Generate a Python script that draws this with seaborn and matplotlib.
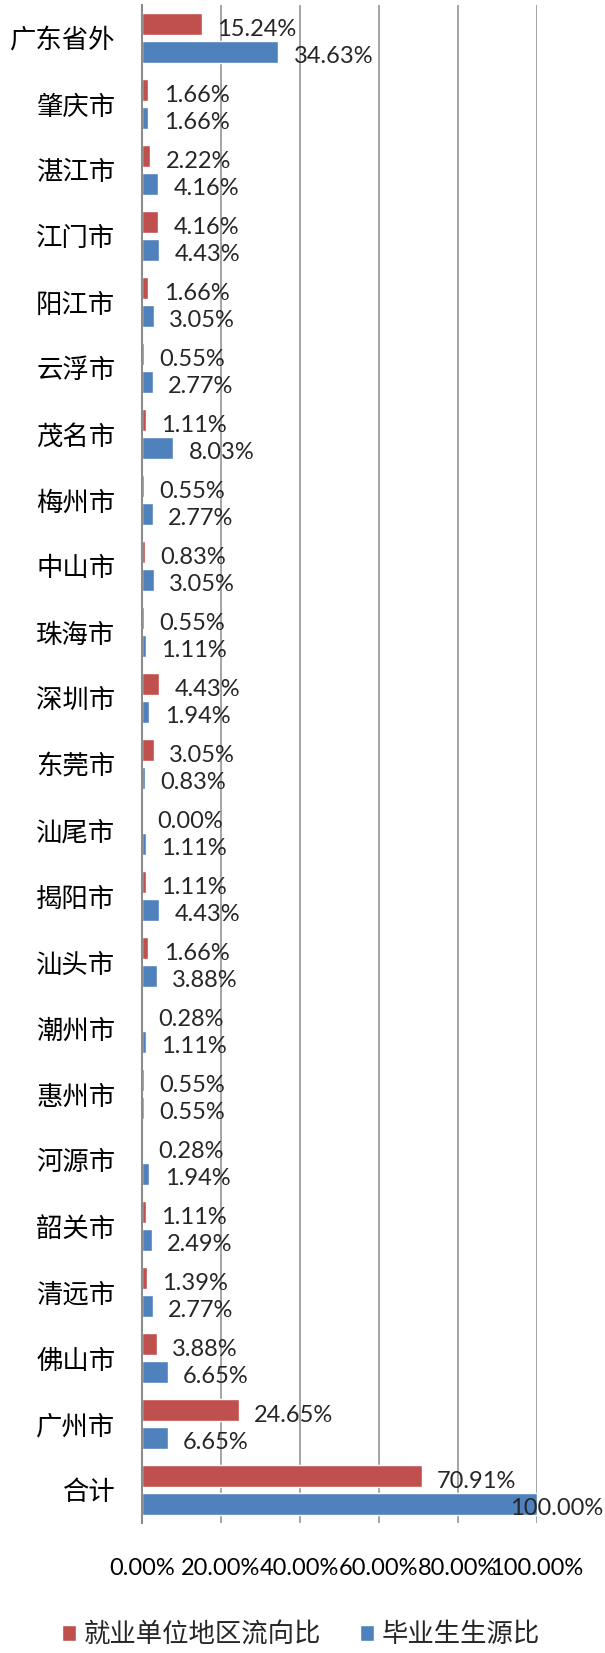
import matplotlib
matplotlib.use("Agg")
import matplotlib.pyplot as plt
import seaborn as sns
import pandas as pd

# ===================== 数据 =====================
regions = ["广东省外", "肇庆市", "湛江市", "江门市", "阳江市", "云浮市", "茂名市",
           "梅州市", "中山市", "珠海市", "深圳市", "东莞市", "汕尾市", "揭阳市",
           "汕头市", "潮州市", "惠州市", "河源市", "韶关市", "清远市", "佛山市",
           "广州市", "合计"]
# 就业单位地区流向比 (%)
flow_ratio = [15.24, 1.66, 2.22, 4.16, 1.66, 0.55, 1.11, 0.55, 0.83, 0.55, 4.43,
              3.05, 0.00, 1.11, 1.66, 0.28, 0.55, 0.28, 1.11, 1.39, 3.88, 24.65, 70.91]
# 毕业生生源比 (%)
source_ratio = [34.63, 1.66, 4.16, 4.43, 3.05, 2.77, 8.03, 2.77, 3.05, 1.11, 1.94,
                0.83, 1.11, 4.43, 3.88, 1.11, 0.55, 1.94, 2.49, 2.77, 6.65, 6.65, 100.00]
series = ["就业单位地区流向比", "毕业生生源比"]
x_ticks = [0, 20, 40, 60, 80, 100]

colors = ["#C0504D", "#4F81BD"]

df = pd.DataFrame({
    "地区": regions * 2,
    "比例": flow_ratio + source_ratio,
    "类型": [series[0]] * len(regions) + [series[1]] * len(regions),
})

# ===================== 样式 =====================
sns.set_style("white")
plt.rcParams["font.family"] = ["Noto Sans CJK SC", "DejaVu Sans"]
plt.rcParams["axes.unicode_minus"] = False

fig = plt.figure(figsize=(6.05, 16.53), dpi=100)
ax = fig.add_axes([141.7 / 605, 1 - 1523 / 1653, (536.7 - 141.7) / 605, (1523 - 5) / 1653])

sns.barplot(data=df, y="地区", x="比例", hue="类型", orient="h",
            order=regions, hue_order=series, palette=colors,
            width=0.84, gap=0.19, saturation=1, ax=ax)

ax.set_xlim(0, 100)
ax.set_xticks(x_ticks)
ax.set_xticklabels([f"{v:.2f}%" for v in x_ticks], fontfamily="Lato", fontsize=17)
ax.set_xlabel("")
ax.set_ylabel("")
ax.tick_params(axis="x", length=0, pad=25, labelcolor="black")
ax.tick_params(axis="y", length=0, pad=19, labelsize=19, labelcolor="black")

ax.set_axisbelow(True)
ax.grid(axis="x", color="#8c8c8c", linewidth=1.1)
ax.grid(axis="y", visible=False)
for side in ["top", "right", "bottom"]:
    ax.spines[side].set_visible(False)
ax.spines["left"].set_color("#8c8c8c")
ax.spines["left"].set_linewidth(1.5)

# ===================== 数据标签 =====================
for container in ax.containers:
    for patch in container.patches:
        val = patch.get_width()
        yc = patch.get_y() + patch.get_height() / 2
        txt = f"{val:.2f}%"
        if val >= 100:
            ax.annotate(txt, xy=(1.0, yc), xycoords=(fig.transFigure, ax.transData),
                        xytext=(-1.5, -3.5), textcoords="offset points",
                        ha="right", va="center", fontfamily="Lato", fontsize=17,
                        annotation_clip=False)
        else:
            ax.annotate(txt, xy=(val, yc), xytext=(11, -3.5), textcoords="offset points",
                        ha="left", va="center", fontfamily="Lato", fontsize=17,
                        annotation_clip=False)

# ===================== 图例 =====================
handles, labels = ax.get_legend_handles_labels()
ax.legend_.remove()
fig.legend(handles, labels, loc="center left",
           bbox_to_anchor=(61.7 / 605, 1 - 1634.5 / 1653),
           ncol=2, frameon=False, fontsize=19, borderpad=0, borderaxespad=0,
           handlelength=0.54, handleheight=0.54, handletextpad=0.29,
           columnspacing=1.48)

fig.savefig("out.png", dpi=100)
